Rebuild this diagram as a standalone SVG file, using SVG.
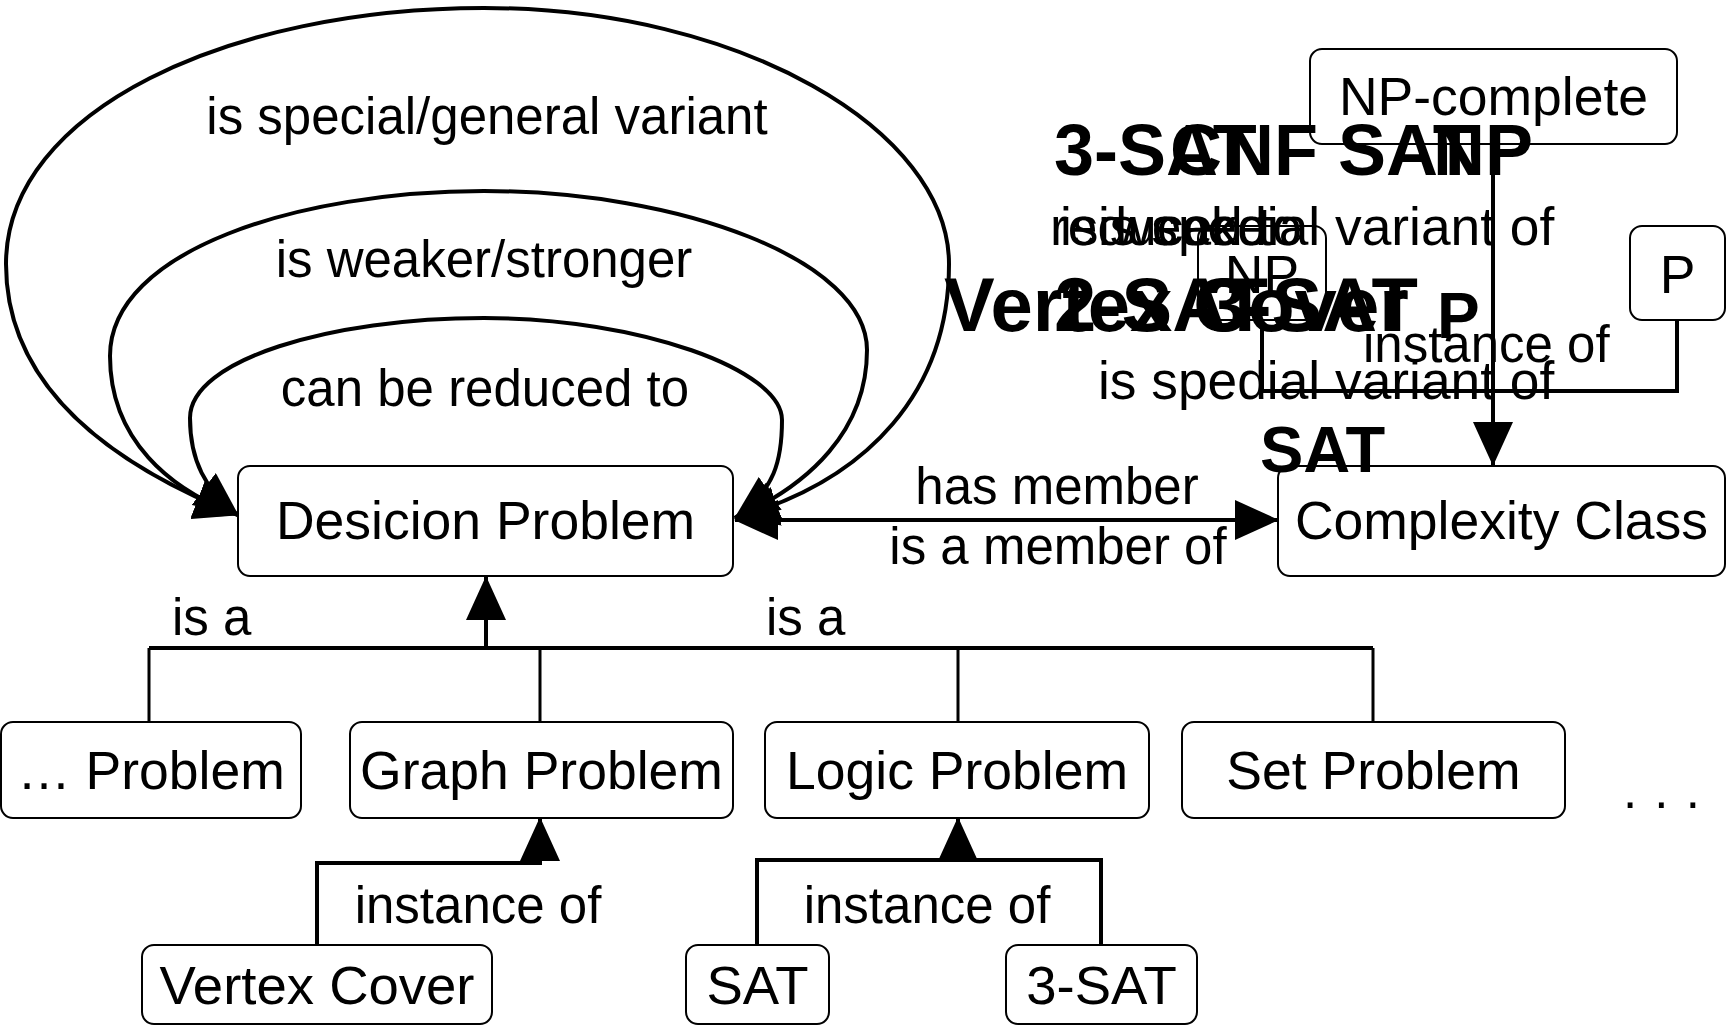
<svg xmlns="http://www.w3.org/2000/svg" width="1727" height="1027" viewBox="0 0 1727 1027">
  <style>
    .box { fill: #ffffff; stroke: #000000; stroke-width: 2; }
    .node { font-family: "Liberation Sans", Arial, sans-serif; font-size: 53.5px; fill: #000000; text-anchor: middle; }
    .leaf { font-size: 54.5px; }
    .lbl { font-family: "Liberation Sans", Arial, sans-serif; font-size: 51px; fill: #000000; }
    .wide { font-size: 53.3px; }
    .mid { text-anchor: middle; }
    .bold { font-family: "Liberation Sans", Arial, sans-serif; font-weight: bold; fill: #000000; }
    .edge { fill: none; stroke: #000000; stroke-width: 4; }
    .thin { fill: none; stroke: #000000; stroke-width: 3; }
  </style>
  <defs>
    <marker id="arrow" markerUnits="userSpaceOnUse" viewBox="0 0 44 40" markerWidth="44" markerHeight="40" refX="43" refY="20" orient="auto-start-reverse">
      <path d="M0,0 L44,20 L0,40 z" fill="#000000"/>
    </marker>
  </defs>

  <rect width="1727" height="1027" fill="#ffffff"/>

  <!-- nodes -->
  <g id="decision-problem">
    <rect class="box" x="238" y="466" width="495" height="110" rx="12"/>
    <text class="node" x="485.5" y="539">Desicion Problem</text>
  </g>
  <g id="complexity-class">
    <rect class="box" x="1278" y="466" width="447" height="110" rx="12"/>
    <text class="node" x="1501.5" y="539">Complexity Class</text>
  </g>
  <g id="np-complete">
    <rect class="box" x="1310" y="49" width="367" height="95" rx="12"/>
    <text class="node" x="1493.5" y="115">NP-complete</text>
  </g>
  <g id="np">
    <rect class="box" x="1198" y="226" width="128" height="94" rx="12"/>
    <text class="node" x="1262" y="293">NP</text>
  </g>
  <g id="p">
    <rect class="box" x="1630" y="226" width="95" height="94" rx="12"/>
    <text class="node" x="1677.5" y="293">P</text>
  </g>
  <g id="other-problem">
    <rect class="box" x="1" y="722" width="300" height="96" rx="12"/>
    <text class="node" x="151" y="789">… Problem</text>
  </g>
  <g id="graph-problem">
    <rect class="box" x="350" y="722" width="383" height="96" rx="12"/>
    <text class="node" x="541.5" y="789">Graph Problem</text>
  </g>
  <g id="logic-problem">
    <rect class="box" x="765" y="722" width="384" height="96" rx="12"/>
    <text class="node" x="957" y="789">Logic Problem</text>
  </g>
  <g id="set-problem">
    <rect class="box" x="1182" y="722" width="383" height="96" rx="12"/>
    <text class="node" x="1373.5" y="789">Set Problem</text>
  </g>
  <g id="vertex-cover">
    <rect class="box" x="142" y="945" width="350" height="79" rx="12"/>
    <text class="node leaf" x="317" y="1004">Vertex Cover</text>
  </g>
  <g id="sat">
    <rect class="box" x="686" y="945" width="143" height="79" rx="12"/>
    <text class="node leaf" x="757.5" y="1004">SAT</text>
  </g>
  <g id="three-sat">
    <rect class="box" x="1006" y="945" width="191" height="79" rx="12"/>
    <text class="node leaf" x="1101.5" y="1004">3-SAT</text>
  </g>
  <g id="more">
    <text class="lbl" font-size="52" x="1623" y="808" letter-spacing="1.5">. . .</text>
  </g>

  <!-- connectors -->
  <g id="connectors">
    <!-- self relations of Desicion Problem -->
    <path class="edge" marker-start="url(#arrow)" marker-end="url(#arrow)"
          d="M238,515 C100,460 6,380 6,264 C6,110 230,8 484,8 C740,8 949,130 949,264 C949,390 870,480 735,518"/>
    <path class="edge" marker-start="url(#arrow)" marker-end="url(#arrow)"
          d="M238,515 C170,490 110,440 110,356 C110,250 300,191 484,191 C680,191 867,260 867,350 C867,430 810,485 735,518"/>
    <path class="edge" marker-start="url(#arrow)" marker-end="url(#arrow)"
          d="M238,515 C205,490 190,460 190,418 C190,360 330,318 484,318 C640,318 782,370 782,420 C782,460 775,490 735,518"/>
    <text class="lbl mid" x="487" y="134">is special/general variant</text>
    <text class="lbl mid" x="484" y="277">is weaker/stronger</text>
    <text class="lbl mid" x="485" y="406">can be reduced to</text>

    <!-- membership -->
    <path class="edge" marker-start="url(#arrow)" marker-end="url(#arrow)" d="M735,520 H1278"/>
    <text class="lbl mid" x="1057" y="504">has member</text>
    <text class="lbl mid" x="1058" y="564">is a member of</text>

    <!-- is a -->
    <path class="edge" d="M149,648 H1373"/>
    <path class="thin" d="M149,648 V722 M540,648 V722 M958,648 V722 M1373,648 V722"/>
    <path class="edge" marker-end="url(#arrow)" d="M486,648 V577"/>
    <text class="lbl" x="172" y="635">is a</text>
    <text class="lbl" x="766" y="635">is a</text>

    <!-- instance of -->
    <path class="edge" marker-end="url(#arrow)" d="M317,945 V863 H540 V818"/>
    <text class="lbl mid" x="478" y="923">instance of</text>
    <path class="edge" d="M757,945 V860 H1101 V945"/>
    <path class="edge" marker-end="url(#arrow)" d="M958,860 V818"/>
    <text class="lbl mid" x="927" y="923">instance of</text>

    <!-- complexity classes -->
    <path class="edge" marker-end="url(#arrow)" d="M1493,144 V465"/>
    <path class="edge" d="M1262,320 V391 H1677 V320"/>
  </g>

  <!-- stacked labels around the complexity classes -->
  <g id="stacked-labels">
    <text class="bold" font-size="72" x="1054" y="175">3-SAT</text>
    <text class="bold" font-size="72" x="1170" y="175">CNF SAT</text>
    <text class="bold" font-size="72" x="1433" y="175">NP</text>
    <text class="lbl wide" x="1050" y="245">reduced to</text>
    <text class="lbl wide" x="1060" y="245">is weaker</text>
    <text class="lbl wide" x="1098" y="245">is spedial variant of</text>
    <text class="bold" font-size="76" x="944" y="331">Vertex Cover</text>
    <text class="bold" font-size="76" x="1054" y="331">2-SAT</text>
    <text class="bold" font-size="76" x="1204" y="331">3-SAT</text>
    <text class="bold" font-size="64" x="1437" y="338">P</text>
    <text class="lbl" x="1363" y="362">instance of</text>
    <text class="lbl wide" x="1098" y="399">is spedial variant of</text>
    <text class="bold" font-size="65" x="1260" y="472">SAT</text>
  </g>
</svg>
